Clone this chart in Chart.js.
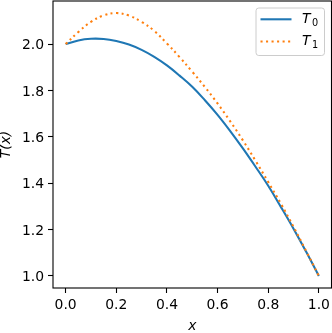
<!DOCTYPE html>
<html>
<head>
<meta charset="utf-8">
<script src="https://cdn.jsdelivr.net/npm/chart.js@4/dist/chart.umd.min.js"></script>
<style>
html,body{margin:0;padding:0;background:#fff;}
#wrap{width:332px;height:333px;position:relative;}
</style>
</head>
<body>
<div id="wrap"><canvas id="c" width="332" height="333"></canvas></div>
<script>
const xValues = [0.00,0.05,0.10,0.15,0.20,0.25,0.30,0.35,0.40,0.45,0.50,0.55,0.60,0.65,0.70,0.75,0.80,0.85,0.90,0.95,1.00];
const t0Values = [2.000,2.016,2.023,2.022,2.013,1.998,1.975,1.945,1.908,1.864,1.816,1.758,1.695,1.625,1.550,1.471,1.389,1.298,1.204,1.104,1.000];
const t1Values = [2.000,2.052,2.096,2.124,2.134,2.123,2.096,2.057,2.003,1.944,1.881,1.815,1.744,1.667,1.585,1.497,1.405,1.312,1.212,1.107,1.000];
const xTicks = [0.0,0.2,0.4,0.6,0.8,1.0];
const yTicks = [1.0,1.2,1.4,1.6,1.8,2.0];
const seriesLabels = ['T0','T1'];

const FONT = 'DejaVu Sans';
const FS = 13.9;

const toPts = (ys) => xValues.map((x, i) => ({x: x, y: ys[i]}));

const frame = {
  id: 'frame',
  afterDatasetsDraw(chart) {
    const {ctx, chartArea: a} = chart;
    ctx.save();
    ctx.strokeStyle = '#000';
    ctx.lineWidth = 1.1;
    ctx.strokeRect(a.left, a.top, a.right - a.left, a.bottom - a.top);
    // legend
    const bx = a.right - 7 - 68.5, by = a.top + 7, bw = 68.5, bh = 47.5, r = 2.8;
    ctx.beginPath();
    ctx.moveTo(bx + r, by);
    ctx.arcTo(bx + bw, by, bx + bw, by + bh, r);
    ctx.arcTo(bx + bw, by + bh, bx, by + bh, r);
    ctx.arcTo(bx, by + bh, bx, by, r);
    ctx.arcTo(bx, by, bx + bw, by, r);
    ctx.closePath();
    ctx.fillStyle = 'rgba(255,255,255,0.8)';
    ctx.fill();
    ctx.strokeStyle = '#cccccc';
    ctx.lineWidth = 1;
    ctx.stroke();
    chart.data.datasets.forEach((ds, i) => {
      const cy = by + 11.3 + i * 22.2;
      ctx.beginPath();
      ctx.strokeStyle = ds.borderColor;
      ctx.lineWidth = ds.borderWidth;
      ctx.setLineDash(ds.borderDash || []);
      ctx.moveTo(bx + 4.5, cy);
      ctx.lineTo(bx + 4.5 + 31, cy);
      ctx.stroke();
      ctx.setLineDash([]);
      const tx = bx + 4.5 + 31 + 10.6;
      ctx.fillStyle = '#000';
      ctx.textBaseline = 'middle';
      ctx.textAlign = 'left';
      ctx.font = 'italic ' + FS + 'px "' + FONT + '"';
      const main = ds.label.charAt(0);
      ctx.fillText(main, tx, cy);
      const w = ctx.measureText(main).width;
      ctx.font = (FS * 0.7).toFixed(2) + 'px "' + FONT + '"';
      ctx.fillText(ds.label.slice(1), tx + w + 1.5, cy + 4.3);
    });
    ctx.restore();
  }
};

const zeroPad = (s) => { s.paddingTop = 0; s.paddingBottom = 0; s.paddingLeft = 0; s.paddingRight = 0; };

new Chart(document.getElementById('c'), {
  type: 'line',
  data: {
    datasets: [
      {label: seriesLabels[0], order: 1, data: toPts(t0Values), borderColor: '#1f77b4', borderWidth: 2.08, pointRadius: 0, fill: false, tension: 0.4},
      {label: seriesLabels[1], order: 0, data: toPts(t1Values), borderColor: '#ff7f0e', borderWidth: 2.08, borderDash: [2.08, 3.44], borderCapStyle: 'butt', pointRadius: 0, fill: false, tension: 0.4}
    ]
  },
  options: {
    responsive: false,
    animation: false,
    layout: {padding: {top: 1, right: 0.5, left: 0, bottom: 0}},
    plugins: {legend: {display: false}, tooltip: {enabled: false}},
    scales: {
      x: {
        type: 'linear', min: -0.05, max: 1.05,
        afterBuildTicks: (s) => { s.ticks = xTicks.map(v => ({value: v})); },
        afterFit: (s) => { s.height = 45; zeroPad(s); },
        grid: {drawOnChartArea: false, drawTicks: true, tickLength: 5, tickColor: '#000', tickWidth: 1.1},
        border: {display: false},
        ticks: {color: '#000', padding: 4.5, maxRotation: 0, font: {family: FONT, size: FS}, callback: (v) => v.toFixed(1)},
        title: {display: true, text: 'x', color: '#000', padding: {top: 0, bottom: 0}, font: {family: FONT, size: FS, style: 'italic', lineHeight: 1.0}}
      },
      y: {
        type: 'linear', min: 0.948, max: 2.186,
        afterBuildTicks: (s) => { s.ticks = yTicks.map(v => ({value: v})); },
        afterFit: (s) => { s.width = 53; zeroPad(s); },
        grid: {drawOnChartArea: false, drawTicks: true, tickLength: 5, tickColor: '#000', tickWidth: 1.1},
        border: {display: false},
        ticks: {color: '#000', padding: 4, labelOffset: 1.5, font: {family: FONT, size: FS}, callback: (v) => v.toFixed(1)},
        title: {display: true, text: 'T(x)', color: '#000', padding: {top: 0, bottom: 0}, font: {family: FONT, size: FS, style: 'italic', lineHeight: 0.9}}
      }
    }
  },
  plugins: [frame]
});
</script>
</body>
</html>
